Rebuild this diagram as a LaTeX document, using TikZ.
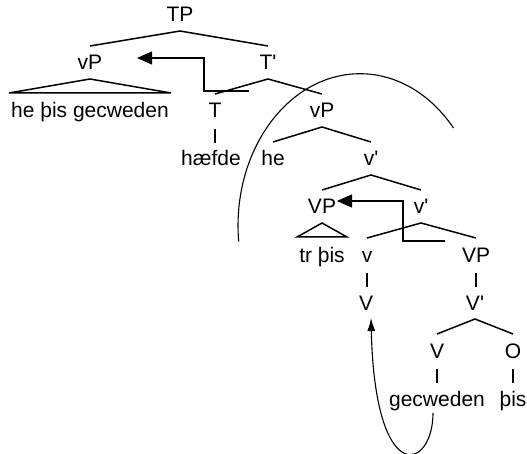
\documentclass[tikz,border=0pt]{standalone}
\usepackage{fontspec}
\newfontfamily\treefont{Liberation Sans}
\usetikzlibrary{arrows.meta,calc}
\begin{document}
\begin{tikzpicture}[x=1pt,y=1pt,
  lab/.style={anchor=base,inner xsep=2pt,inner ysep=0pt,font=\treefont\fontsize{21}{25}\selectfont},
  branch/.style={line width=1.5pt},
  bar/.style={line width=1.2pt},
  elbow/.style={line width=1.1pt,-{Triangle[length=15pt,width=13pt]}},
  curvearr/.style={line width=1.1pt,-{Latex[length=13pt,width=8pt]}},
  ring/.style={line width=1.1pt}]
\useasboundingbox (0,0) rectangle (527,-454);
% nodes
\node[lab] (TP)    at (180,-22)  {TP};
\node[lab] (vPa)   at (90,-70)   {vP};
\node[lab] (Tb)    at (268,-70)  {T'};
\node[lab] (hpg)   at (90,-118)  {he þis gecweden};
\node[lab] (T)     at (215,-118) {T};
\node[lab] (vPb)   at (322,-118) {vP};
\node[lab] (hf)    at (211,-166) {hæfde};
\node[lab] (he)    at (273,-166) {he};
\node[lab] (vb1)   at (371,-166) {v'};
\node[lab] (VPa)   at (322,-214) {VP};
\node[lab] (vb2)   at (421,-214) {v'};
\node[lab] (trp)   at (322,-262) {tr þis};
\node[lab] (v)     at (367,-262) {v};
\node[lab] (VPb)   at (476,-262) {VP};
\node[lab] (V1)    at (366,-310) {V};
\node[lab] (Vb)    at (475,-310) {V'};
\node[lab] (V2)    at (437,-358) {V};
\node[lab] (O)     at (513,-358) {O};
\node[lab] (gec)   at (437,-406) {gecweden};
\node[lab] (pis)   at (513,-406) {þis};
% binary branches
\foreach \p/\a/\b in {TP/vPa/Tb, Tb/T/vPb, vPb/he/vb1, vb1/VPa/vb2, vb2/v/VPb, Vb/V2/O}{
  \draw[branch] ($(\a.base)+(0,24)$) -- ($(\p.base)+(0,-9)$) -- ($(\b.base)+(0,24)$);
}
% triangles
\draw[branch] ($(vPa.base)+(0,-9)$) -- ($(hpg.west|-hpg.base)+(0,25)$) -- ($(hpg.east|-hpg.base)+(0,25)$) -- cycle;
\draw[branch] ($(VPa.base)+(0,-9)$) -- ($(trp.west|-trp.base)+(0,25)$) -- ($(trp.east|-trp.base)+(0,25)$) -- cycle;
% unary bars
\foreach \p/\c in {T/hf, v/V1, VPb/Vb, V2/gec, O/pis}{
  \draw[bar] ($(\p.base)+(0,-11)$) -- ($(\p.base|-\c.base)+(0,23)$);
}
% movement arrows
\coordinate (a1s) at (249,-91);
\coordinate (a1k) at (204,-58);
\coordinate (a1t) at (137,-58);
\draw[elbow] (a1s) -| (a1k) -- (a1t);
\coordinate (a2s) at (445,-241);
\coordinate (a2k) at (403,-201);
\coordinate (a2t) at (337,-201);
\draw[elbow] (a2s) -| (a2k) -- (a2t);
\coordinate (c1) at (433,-413);
\coordinate (c2) at (371,-318);
\draw[curvearr] (c1) .. controls (433,-470) and (375,-490) .. (c2);
% large arc
\draw[ring] (238.7,-241.6) arc[start angle=186, end angle=40, x radius=122, y radius=152];
\end{tikzpicture}
\end{document}
